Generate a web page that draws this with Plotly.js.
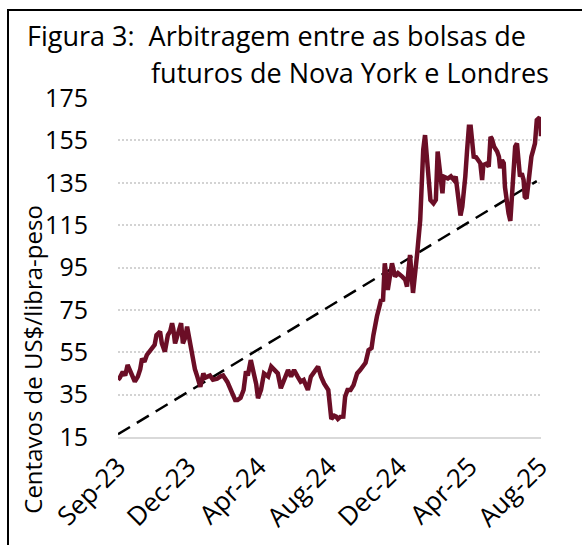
<!DOCTYPE html>
<html>
<head>
<meta charset="utf-8">
<script src="https://cdn.plot.ly/plotly-3.0.1.min.js"></script>
<style>
  html, body { margin: 0; padding: 0; background: #fff; }
  #wrap { position: relative; width: 582px; height: 545px; overflow: hidden; }
  #chart { position: absolute; left: 0; top: 0; width: 582px; height: 545px; }
  #frame { position: absolute; left: 7px; top: 9px; width: 700px; height: 700px;
           border-left: 2px solid #000; border-top: 2px solid #000; pointer-events: none; }
</style>
</head>
<body>
<div id="wrap"><div id="chart"></div><div id="frame"></div></div>
<script>
const dates = [
"2023-09-01","2023-09-04","2023-09-09","2023-09-13","2023-09-17","2023-09-21","2023-09-24","2023-09-29",
"2023-10-04","2023-10-08","2023-10-11","2023-10-15","2023-10-19","2023-10-24","2023-10-29",
"2023-11-01","2023-11-04","2023-11-10","2023-11-13","2023-11-18","2023-11-23","2023-11-27","2023-11-30",
"2023-12-02","2023-12-05","2023-12-10","2023-12-15","2023-12-18","2023-12-22","2023-12-25","2023-12-30",
"2024-01-04","2024-01-07","2024-01-11","2024-01-16","2024-01-21","2024-01-24","2024-01-28",
"2024-02-01","2024-02-06","2024-02-13","2024-02-18","2024-02-23",
"2024-03-01","2024-03-06","2024-03-11","2024-03-14","2024-03-18","2024-03-23","2024-03-28",
"2024-04-01","2024-04-04","2024-04-09","2024-04-14","2024-04-18","2024-04-21","2024-04-26",
"2024-05-01","2024-05-08","2024-05-13","2024-05-18","2024-05-24","2024-05-29",
"2024-06-03","2024-06-10","2024-06-15","2024-06-20","2024-06-26",
"2024-07-01","2024-07-06","2024-07-13","2024-07-18","2024-07-23","2024-07-30",
"2024-08-04","2024-08-09","2024-08-16","2024-08-19","2024-08-21","2024-08-26","2024-08-29",
"2024-09-01","2024-09-05","2024-09-10","2024-09-13","2024-09-17","2024-09-22","2024-09-27",
"2024-10-03","2024-10-08","2024-10-13","2024-10-17","2024-10-22","2024-10-27","2024-10-30",
"2024-11-02","2024-11-05","2024-11-09","2024-11-12","2024-11-15","2024-11-18","2024-11-23","2024-11-27","2024-11-30",
"2024-12-05","2024-12-10","2024-12-17","2024-12-22","2024-12-25","2024-12-30",
"2025-01-04","2025-01-08","2025-01-11","2025-01-16","2025-01-19","2025-01-21","2025-01-24","2025-01-27","2025-01-30",
"2025-02-02","2025-02-07","2025-02-11","2025-02-14","2025-02-19","2025-02-22","2025-02-24",
"2025-03-03","2025-03-08","2025-03-13","2025-03-16","2025-03-19","2025-03-22","2025-03-24","2025-03-27","2025-03-30",
"2025-04-01","2025-04-04","2025-04-07","2025-04-10","2025-04-13","2025-04-15","2025-04-19","2025-04-23","2025-04-26","2025-04-29",
"2025-05-01","2025-05-06","2025-05-10","2025-05-13","2025-05-15","2025-05-19","2025-05-24","2025-05-27","2025-05-29",
"2025-06-01","2025-06-04","2025-06-06","2025-06-09","2025-06-12","2025-06-15","2025-06-18","2025-06-20","2025-06-23","2025-06-26","2025-06-29",
"2025-07-01","2025-07-04","2025-07-07","2025-07-09","2025-07-12","2025-07-15","2025-07-18","2025-07-20","2025-07-23","2025-07-26","2025-07-29",
"2025-08-01","2025-08-04","2025-08-05"
];
const arbitrage = [
42,43,45.8,44,49,46,45,41.1,
43.5,47,52,50.5,53.7,55.3,57.6,
58.5,63.1,64.7,59.2,55.3,63.1,65,68.7,
66,59.2,64.7,68.7,59.2,62,67.1,59.2,
51.3,47,43.5,38.7,45,43,43.5,
44,42,42.5,43.5,44,
41,37.2,34.8,32.5,32.5,33.5,37.2,
46,44,51.3,45,40,33.3,37.2,
45,43.5,48.2,46.6,45,38,
41.9,46.6,43.5,46.6,43.5,
41.1,41.9,37.2,43.5,45.5,48.2,
43.5,40.3,37.2,29.3,23.5,25,24.6,
23.5,24.5,24.6,34,37.2,37.2,39.5,
45,46.6,48.5,50,56,57,63,
68,72,76.5,80,79,97,84.4,92,97,
90.7,92.3,90.7,89.2,86,100.9,
83,92,101.8,117.5,136.4,150.6,157.5,145.7,136,
126.8,125.3,127,149.7,138,130,137.9,
137,138,136.3,137.9,131.6,123.7,119.5,123.7,131.6,
137.9,150.4,161.4,161.4,153.6,147.3,147,145.7,144.2,136.3,
143.4,144,142.6,156.7,155.9,152,149.7,147.3,141.8,
145.7,144.2,133,125.3,120.6,117,129,141,152,153.6,144.2,
137.9,139.4,136.3,128.4,127.6,134.7,144.2,147.3,150.4,153.6,164.6,
165.4,165,157
];
const trendDates = ["2023-09-01", "2025-07-29"];
const trendValues = [16.3, 135.8];
const tickDates = ["2023-09-01","2023-12-27","2024-04-22","2024-08-17","2024-12-12","2025-04-08","2025-08-03"];
const tickLabels = ["Sep-23","Dec-23","Apr-24","Aug-24","Dec-24","Apr-25","Aug-25"];
const yTicks = [15, 35, 55, 75, 95, 115, 135, 155, 175];

const FONT = "Open Sans, Noto Sans, sans-serif";

const traces = [
  {
    x: trendDates, y: trendValues, type: "scatter", mode: "lines",
    line: { color: "#000000", width: 2.5, dash: "14px,8px" },
    hoverinfo: "skip", showlegend: false
  },
  {
    x: dates, y: arbitrage, type: "scatter", mode: "lines",
    line: { color: "#6b0e26", width: 4.5, shape: "linear" },
    showlegend: false
  }
];

const layout = {
  width: 582, height: 545,
  margin: { l: 118, r: 41, t: 98, b: 108 },
  paper_bgcolor: "#ffffff", plot_bgcolor: "#ffffff",
  font: { family: FONT, size: 24, color: "#000000" },
  showlegend: false,
  xaxis: {
    type: "date",
    range: ["2023-09-01", "2025-08-05"],
    tickmode: "array", tickvals: tickDates, ticktext: tickLabels,
    tickangle: -45,
    ticks: "outside", ticklen: 2, tickcolor: "rgba(0,0,0,0)",
    tickfont: { family: FONT, size: 26, color: "#000" },
    showgrid: false, zeroline: false,
    showline: true, linecolor: "#d9d9d9", linewidth: 2
  },
  yaxis: {
    range: [15, 175],
    tickmode: "array", tickvals: yTicks,
    ticks: "outside", ticklen: 24, tickcolor: "rgba(0,0,0,0)",
    tickfont: { family: FONT, size: 25, color: "#000" },
    showgrid: true, gridcolor: "#d3d3d3", gridwidth: 2, griddash: "2px,2px",
    zeroline: false, showline: false
  },
  annotations: [
    {
      text: "Figura 3:  Arbitragem entre as bolsas de",
      xref: "paper", yref: "paper", x: -0.2199, y: 1.184,
      xanchor: "left", yanchor: "middle", showarrow: false,
      font: { family: FONT, size: 27, color: "#000" }
    },
    {
      text: "futuros de Nova York e Londres",
      xref: "paper", yref: "paper", x: 0.0733, y: 1.0766,
      xanchor: "left", yanchor: "middle", showarrow: false,
      font: { family: FONT, size: 27, color: "#000" }
    },
    {
      text: "Centavos de US$/libra-peso",
      xref: "paper", yref: "paper", x: -0.204, y: 0.230,
      xanchor: "center", yanchor: "middle", textangle: -90, showarrow: false,
      font: { family: FONT, size: 24, color: "#000" }
    }
  ]
};

Plotly.newPlot("chart", traces, layout, { staticPlot: true, displayModeBar: false });
</script>
</body>
</html>
